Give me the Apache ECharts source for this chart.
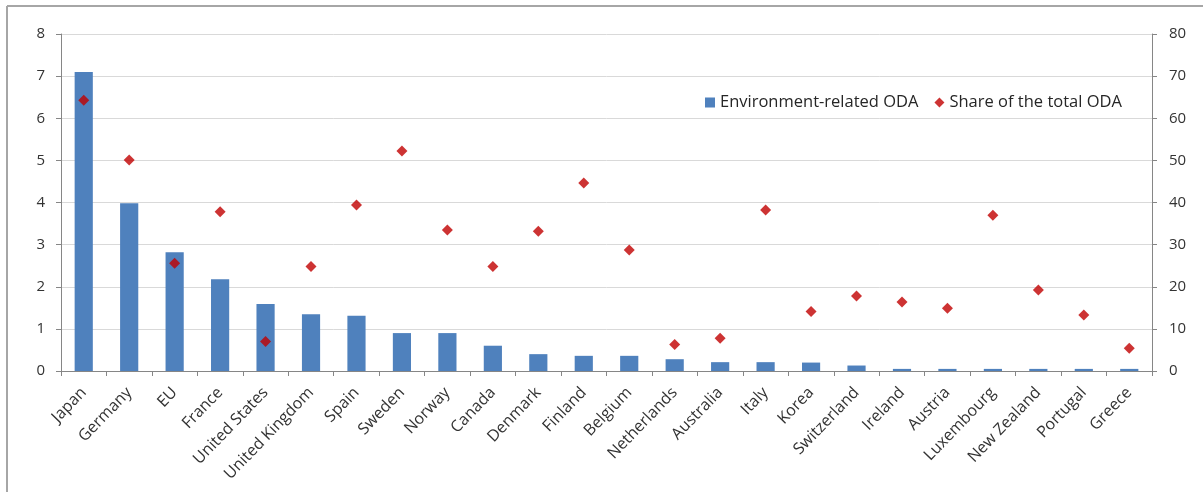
<!DOCTYPE html>
<html>
<head>
<meta charset="utf-8">
<script src="https://cdn.jsdelivr.net/npm/echarts@6/dist/echarts.min.js"></script>
<style>html,body{margin:0;padding:0;background:#fff;}#c{width:1203px;height:492px;}</style>
</head>
<body>
<div id="c"></div>
<script>
var categories = ["Japan","Germany","EU","France","United States","United Kingdom","Spain","Sweden","Norway","Canada","Denmark","Finland","Belgium","Netherlands","Australia","Italy","Korea","Switzerland","Ireland","Austria","Luxembourg","New Zealand","Portugal","Greece"];
var envODA = [7.1,3.98,2.82,2.18,1.59,1.35,1.31,0.9,0.9,0.6,0.4,0.36,0.36,0.28,0.21,0.21,0.2,0.13,0.05,0.05,0.05,0.05,0.05,0.05];
var shareODA = [64.3,50.1,25.6,37.8,7.0,24.8,39.4,52.2,33.5,24.8,33.2,44.6,28.7,6.3,7.8,38.2,14.1,17.8,16.4,14.9,37.0,19.2,13.3,5.4];
var leftTicks = [0,8,1];
var rightTicks = [0,80,10];

var font = 'Open Sans';
var chart = echarts.init(document.getElementById('c'));
chart.setOption({
  animation: false,
  backgroundColor: '#fff',
  textStyle: {fontFamily: font},
  graphic: [
    {type:'line', shape:{x1:7,y1:6,x2:7,y2:492}, style:{stroke:'#a6a6a6', lineWidth:2}},
    {type:'line', shape:{x1:7,y1:6,x2:1203,y2:6}, style:{stroke:'#a6a6a6', lineWidth:2}}
  ],
  grid: {left:61, right:51, top:34, bottom:121},
  legend: {
    left: 700, top: 89,
    itemWidth: 10, itemHeight: 10, itemGap: 16,
    textStyle: {fontFamily: font, fontSize: 16.5, color: '#262626'},
    data: [
      {name:'Environment-related ODA', icon:'rect'},
      {name:'Share of the total ODA', icon:'diamond'}
    ]
  },
  xAxis: {
    type: 'category',
    data: categories,
    axisLine: {lineStyle:{color:'#868686'}},
    axisTick: {show:true, alignWithLabel:false, length:5, lineStyle:{color:'#868686'}},
    axisLabel: {rotate:46, interval:0, fontSize:16, color:'#333333', margin:19, fontFamily: font}
  },
  yAxis: [
    {
      type:'value', min:leftTicks[0], max:leftTicks[1], interval:leftTicks[2],
      axisLine:{show:true, lineStyle:{color:'#868686'}},
      axisTick:{show:true, length:5, lineStyle:{color:'#868686'}},
      axisLabel:{fontSize:15, color:'#333333', margin:16, fontFamily: font},
      splitLine:{lineStyle:{color:'#d9d9d9'}}
    },
    {
      type:'value', min:rightTicks[0], max:rightTicks[1], interval:rightTicks[2],
      position:'right',
      axisLine:{show:true, lineStyle:{color:'#868686'}},
      axisTick:{show:true, length:5, lineStyle:{color:'#868686'}},
      axisLabel:{fontSize:15, color:'#333333', margin:17, fontFamily: font},
      splitLine:{show:false}
    }
  ],
  series: [
    {
      name:'Environment-related ODA', type:'bar', data:envODA, yAxisIndex:0,
      barWidth:'40%', itemStyle:{color:'#4f81bd'}
    },
    {
      name:'Share of the total ODA', type:'scatter', data:shareODA, yAxisIndex:1,
      symbol:'diamond', symbolSize:11, itemStyle:{color:'#c00000'}
    }
  ]
});
</script>
</body>
</html>
